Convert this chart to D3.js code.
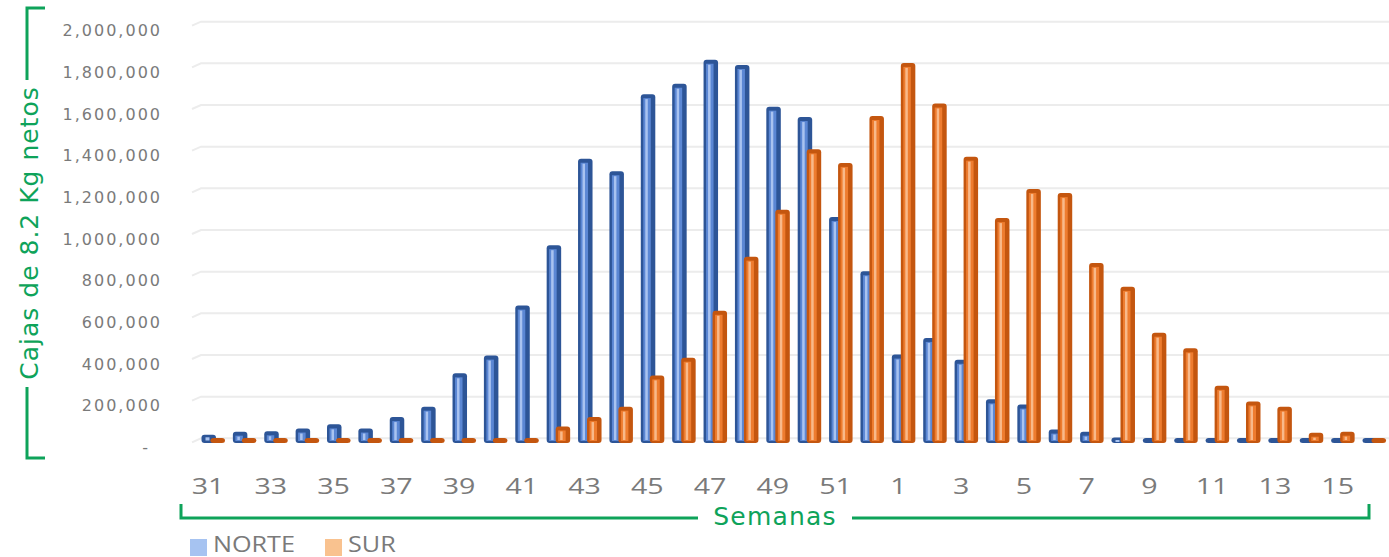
<!DOCTYPE html>
<html>
<head>
<meta charset="utf-8">
<script src="https://cdn.jsdelivr.net/npm/d3@7"></script>
<style>
  html, body { margin: 0; padding: 0; background: #ffffff; }
  svg { display: block; }
</style>
</head>
<body>
<svg id="chart" width="1389" height="557"></svg>
<script>
// ---- data ----
const weeks = ["31","32","33","34","35","36","37","38","39","40","41","42","43","44","45","46","47","48","49","50","51","52",
               "1","2","3","4","5","6","7","8","9","10","11","12","13","14","15","16"];
const xTickLabels = ["31","33","35","37","39","41","43","45","47","49","51","1","3","5","7","9","11","13","15"];
const norte = [25000, 40000, 42000, 55000, 75000, 55000, 110000, 160000, 320000, 405000, 645000, 935000,
               1350000, 1290000, 1660000, 1710000, 1825000, 1800000, 1600000, 1550000, 1070000, 810000,
               410000, 490000, 385000, 195000, 170000, 50000, 40000, 12000, 4000, 4000, 4000, 4000, 3000, 3000, 3000, 3000];
const sur = [5000, 6000, 6000, 6000, 6000, 6000, 6000, 6000, 6000, 6000, 6000, 65000,
             110000, 160000, 310000, 395000, 620000, 880000, 1105000, 1395000, 1330000, 1555000,
             1810000, 1615000, 1360000, 1065000, 1205000, 1185000, 850000, 735000, 515000, 440000, 260000, 185000, 160000, 35000, 40000, 8000];
const yTickValues = [0, 200000, 400000, 600000, 800000, 1000000, 1200000, 1400000, 1600000, 1800000, 2000000];
const yTickLabels = ["-", "200,000", "400,000", "600,000", "800,000", "1,000,000", "1,200,000", "1,400,000", "1,600,000", "1,800,000", "2,000,000"];
const seriesNames = ["NORTE", "SUR"];
const yTitle = "Cajas de 8.2 Kg netos";
const xTitle = "Semanas";

// ---- styles ----
const green = "#0EA35A";
const grey = "#7a7a7a";
const pal = {
  NORTE: { dark: "#2D5597", mid: "#5B87D4", light: "#A9C3F0", legend: "#A6C3F1" },
  SUR:   { dark: "#C4560F", mid: "#EE7C2F", light: "#F8B98A", legend: "#F9C28F" }
};

const svg = d3.select("#chart");

const x = d3.scaleBand().domain(weeks).range([192.3, 1384.7]).padding(0);
const yGrid = d3.scaleLinear().domain([0, 2000000]).range([438.3, 21.7]);
const yBar = d3.scaleLinear().domain([0, 2000000]).range([440, 23.3]);
const base = yBar(0) + 3;   // front edge of the 3D floor

// ---- gridlines (back wall) ----
const grid = svg.append("g");
grid.selectAll("path").data(yTickValues).join("path")
  .attr("d", d => `M192,${yGrid(d) + 4} L201,${yGrid(d)} L1389,${yGrid(d)}`)
  .attr("fill", "none")
  .attr("stroke", "#ECECEC")
  .attr("stroke-width", 2);

// ---- y axis ----
const yAxis = svg.append("g")
  .attr("transform", "translate(162,8.5)")
  .call(d3.axisLeft(yGrid).tickValues(yTickValues).tickFormat((d, i) => yTickLabels[i]).tickSize(0).tickPadding(0));
yAxis.select(".domain").remove();
yAxis.selectAll("text")
  .attr("fill", grey)
  .style("font-family", "'DejaVu Sans', sans-serif")
  .style("font-size", "16px")
  .style("letter-spacing", "2px")
  .attr("dy", "0.36em")
  .attr("x", d => d === 0 ? -12 : 0);

// ---- bars ----
function drawSeries(name, values, offset) {
  const c = pal[name];
  const w = 14.5;
  const g = svg.append("g").attr("class", "series-" + name);
  const sel = g.selectAll("g").data(weeks.map((wk, i) => ({ wk, v: values[i] }))).join("g")
    .attr("transform", d => `translate(${x(d.wk) + x.bandwidth() / 2 + offset},0)`);
  const top = d => Math.min(yBar(d.v), base - 5);
  const h = d => base - yBar(d.v);
  sel.append("rect")
    .attr("x", 0).attr("width", w)
    .attr("y", d => top(d))
    .attr("height", d => base - top(d))
    .attr("rx", 3)
    .attr("fill", c.dark);
  sel.filter(d => h(d) > 9).append("rect")
    .attr("x", 2.5).attr("width", w - 7)
    .attr("y", d => yBar(d.v) + 4)
    .attr("height", d => h(d) - 6)
    .attr("fill", c.mid);
  sel.filter(d => h(d) > 9).append("rect")
    .attr("x", 4.5).attr("width", 2.5)
    .attr("y", d => yBar(d.v) + 5)
    .attr("height", d => h(d) - 8)
    .attr("fill", c.light);
  sel.filter(d => h(d) > 5 && h(d) <= 9).append("rect")
    .attr("x", 4).attr("width", 4)
    .attr("y", d => yBar(d.v) + 2.5)
    .attr("height", d => Math.max(2, h(d) - 5))
    .attr("fill", c.light);
}
drawSeries("NORTE", norte, -6.5);
drawSeries("SUR", sur, 2.5);

// ---- x axis ----
const xAxis = svg.append("g")
  .attr("transform", "translate(0,475)")
  .call(d3.axisBottom(x).tickValues(xTickLabels).tickSize(0).tickPadding(3));
xAxis.select(".domain").remove();
xAxis.selectAll("text")
  .attr("fill", grey)
  .attr("x", 0)
  .attr("transform", "scale(1.3,1)")
  .style("font-family", "'Open Sans', sans-serif")
  .style("font-size", "22px");

// ---- y title + bracket ----
svg.append("path")
  .attr("d", "M45,8 H27 V80 M27,387 V458 H45")
  .attr("fill", "none").attr("stroke", green).attr("stroke-width", 3);
svg.append("text")
  .attr("transform", "translate(29,233) rotate(-90)")
  .attr("text-anchor", "middle")
  .attr("dominant-baseline", "central")
  .attr("fill", green)
  .style("font-family", "'DejaVu Sans', sans-serif")
  .style("font-size", "25px")
  .style("letter-spacing", "1px")
  .text(yTitle);

// ---- x title + bracket ----
svg.append("path")
  .attr("d", "M181,504 V518 H698 M852,518 H1369 V504")
  .attr("fill", "none").attr("stroke", green).attr("stroke-width", 3);
svg.append("text")
  .attr("x", 775).attr("y", 525)
  .attr("text-anchor", "middle")
  .attr("fill", green)
  .style("font-family", "'DejaVu Sans', sans-serif")
  .style("font-size", "25px")
  .style("letter-spacing", "1.2px")
  .text(xTitle);

// ---- legend ----
const legendPos = [190, 325];
const leg = svg.append("g").selectAll("g").data(seriesNames).join("g")
  .attr("transform", (d, i) => `translate(${legendPos[i]},539)`);
leg.append("rect")
  .attr("width", 17).attr("height", 17)
  .attr("fill", d => pal[d].legend);
leg.append("text")
  .attr("transform", "translate(23,13) scale(1.2,1)")
  .attr("fill", grey)
  .style("font-family", "'Open Sans', sans-serif")
  .style("font-size", "21px")
  .text(d => d);
</script>
</body>
</html>
